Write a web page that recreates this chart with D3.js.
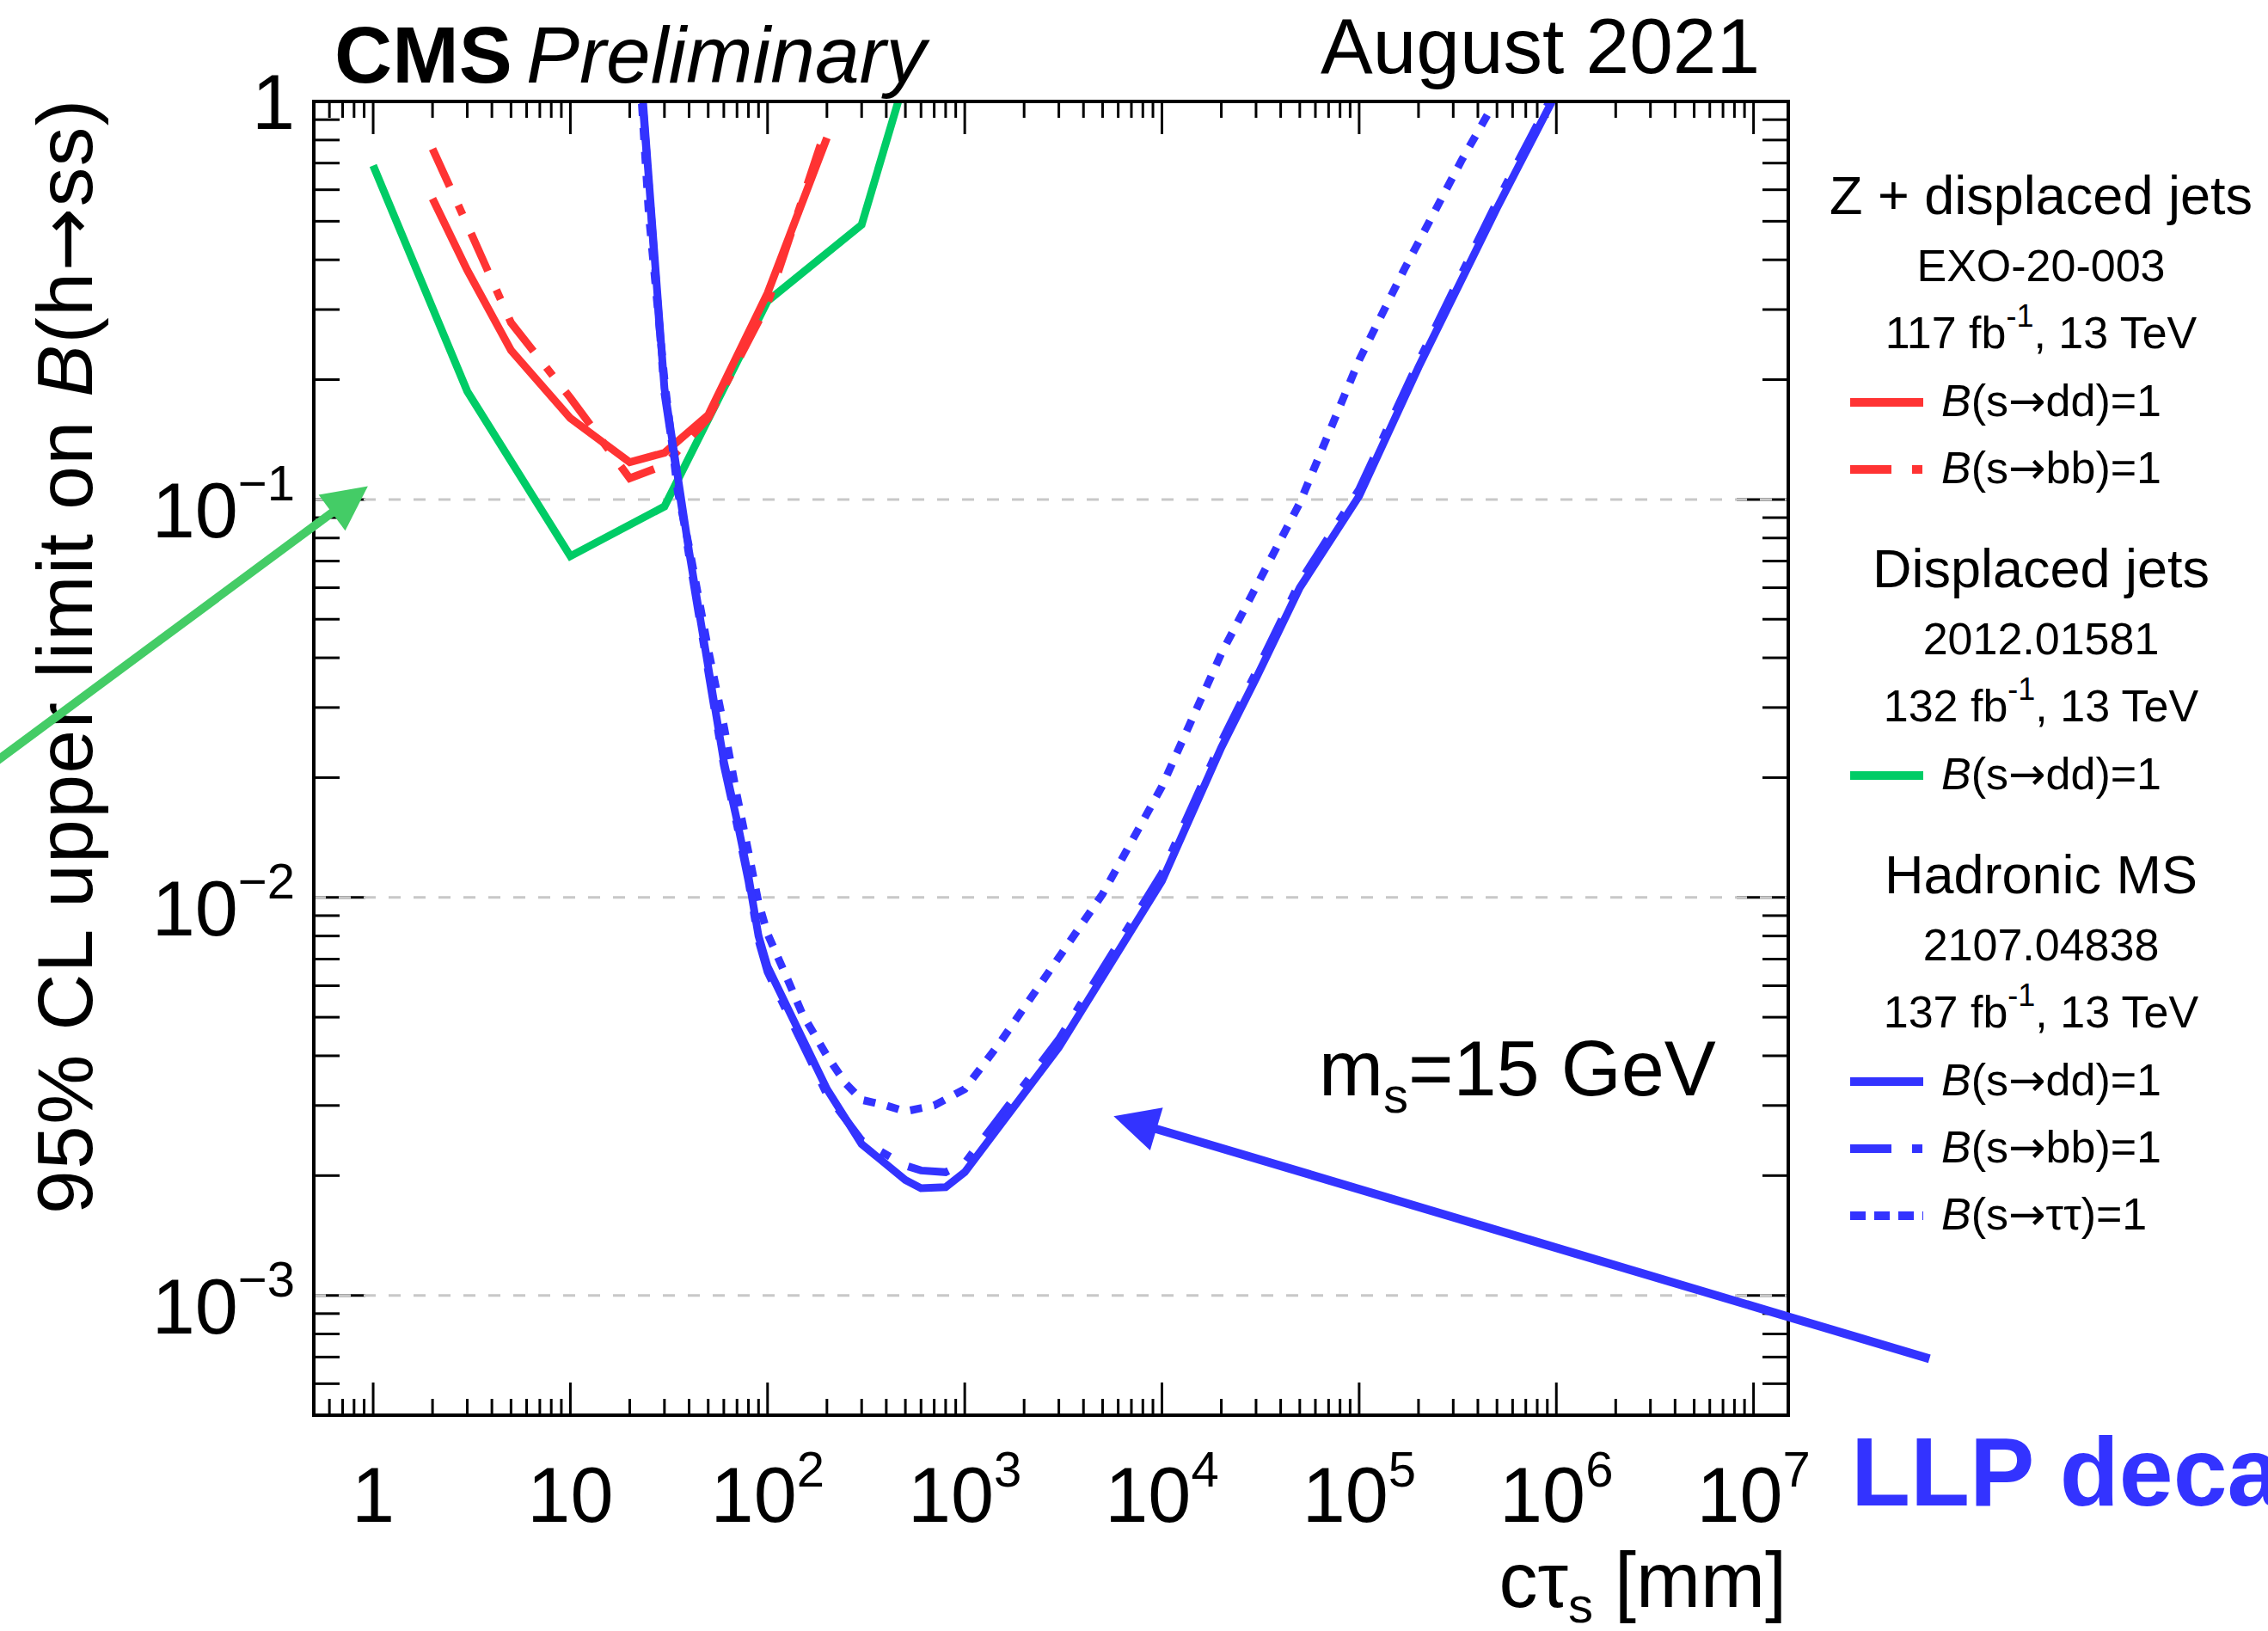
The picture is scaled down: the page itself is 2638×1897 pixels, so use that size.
<!DOCTYPE html>
<html>
<head>
<meta charset="utf-8">
<script src="https://cdn.jsdelivr.net/npm/d3@7"></script>
<style>
body{margin:0;background:#fff;}
svg text{font-family:"Liberation Sans",Arial,Helvetica,sans-serif;fill:#000;}
svg tspan.arr{font-family:"DejaVu Sans",sans-serif;}
</style>
</head>
<body>
<svg width="2638" height="1897"></svg>
<script>
// Z + displaced jets, EXO-20-003
const zjCtau = [2, 3, 5, 10, 20, 30, 50, 100, 200];
const zjDD = [0.57, 0.377, 0.237, 0.160, 0.124, 0.131, 0.163, 0.33, 0.81];
const zjBB = [0.76, 0.49, 0.278, 0.18, 0.113, 0.122, 0.16, 0.31, 0.87];

// Displaced jets, 2012.01581
const djCtau = [1, 3, 10, 30, 100, 300, 500];
const djDD = [0.69, 0.187, 0.072, 0.096, 0.315, 0.49, 1.15];

// Hadronic MS, 2107.04838
const msCtau = [20, 30, 40, 50, 60, 70, 80, 90, 100, 200, 300, 500, 600, 800, 1000, 3000,
                1e4, 2e4, 3e4, 5e4, 1e5, 2e5, 5e5, 1e6];
const msDD = [2.8, 0.19, 0.074, 0.038, 0.022, 0.0156, 0.0113, 0.0080, 0.0067, 0.0033, 0.0024, 0.00195,
              0.00186, 0.00187, 0.00204, 0.0042, 0.0110, 0.0238, 0.0355, 0.060, 0.102, 0.215, 0.54, 1.05];
const msBB = [2.7, 0.185, 0.072, 0.037, 0.0215, 0.0152, 0.011, 0.0078, 0.0065, 0.0032, 0.00245, 0.00212,
              0.00206, 0.00204, 0.00215, 0.0044, 0.0115, 0.0246, 0.0368, 0.062, 0.106, 0.222, 0.56, 1.08];
const msTauCtau = [20, 25, 30, 35, 40, 50, 60, 70, 80, 90, 100, 125, 150, 200, 250, 300, 400, 500, 700,
                   1000, 1500, 2500, 5000, 1e4, 2e4, 5e4, 1e5, 1.7e5, 3.3e5, 4.5e5];
const msTT = [3.0, 0.52, 0.2, 0.105, 0.076, 0.042, 0.027, 0.018, 0.013, 0.0097, 0.0081, 0.0063, 0.0051,
              0.0040, 0.0034, 0.0031, 0.0030, 0.0029, 0.00300, 0.0033, 0.0043, 0.0062, 0.0102, 0.019,
              0.041, 0.098, 0.224, 0.38, 0.71, 0.93];

// axis labels
const xLabelVals = [1, 10, 1e2, 1e3, 1e4, 1e5, 1e6, 1e7];
const xLabelBase = ['1', '10', '10', '10', '10', '10', '10', '10'];
const xLabelExp = ['', '', '2', '3', '4', '5', '6', '7'];
const yLabelVals = [1, 0.1, 0.01, 0.001];
const yLabelBase = ['1', '10', '10', '10'];
const yLabelExp = ['', '\u22121', '\u22122', '\u22123'];
const yGridVals = [0.1, 0.01, 0.001];

// annotation arrows [tail, tip] in (ctau, limit) units
const greenArrow = [[0.01, 0.0204], [0.94, 0.108]];
const blueArrow = [[7.8e7, 6.93e-4], [5690, 0.00282]];

const red = '#ff3333', green = '#00cc66', blue = '#3333ff';
const dashDot = '48,24,12,24', dotted = '14,14';

const frame = {left: 365, right: 2080, top: 118, bottom: 1646};
const x = d3.scaleLog().domain([0.5, 1.5e7]).range([frame.left, frame.right]);
const y = d3.scaleLog().domain([5e-4, 1]).range([frame.bottom, frame.top]);

const svg = d3.select('svg');
svg.append('defs').append('clipPath').attr('id', 'plotClip')
   .append('rect')
   .attr('x', frame.left).attr('y', frame.top)
   .attr('width', frame.right - frame.left).attr('height', frame.bottom - frame.top);

// ticks
const xTicks = [], yTicks = [];
for (let e = -1; e <= 7; e++) for (let m = 1; m <= 9; m++) {
    const v = m * Math.pow(10, e);
    if (v > 0.5 && v < 1.5e7) xTicks.push({v: v, major: m == 1});
}
for (let e = -4; e <= 0; e++) for (let m = 1; m <= 9; m++) {
    const v = m * Math.pow(10, e);
    if (v > 5e-4 && v <= 1) yTicks.push({v: v, major: m == 1});
}
const ticks = svg.append('g').attr('stroke', '#000').attr('stroke-width', 3);
ticks.selectAll('.xb').data(xTicks).enter().append('line')
     .attr('x1', d => x(d.v)).attr('x2', d => x(d.v))
     .attr('y1', frame.bottom).attr('y2', d => frame.bottom - (d.major ? 38 : 19));
ticks.selectAll('.xt').data(xTicks).enter().append('line')
     .attr('x1', d => x(d.v)).attr('x2', d => x(d.v))
     .attr('y1', frame.top).attr('y2', d => frame.top + (d.major ? 38 : 19));
ticks.selectAll('.yl').data(yTicks).enter().append('line')
     .attr('y1', d => y(d.v)).attr('y2', d => y(d.v))
     .attr('x1', frame.left).attr('x2', d => frame.left + (d.major ? 60 : 30));
ticks.selectAll('.yr').data(yTicks).enter().append('line')
     .attr('y1', d => y(d.v)).attr('y2', d => y(d.v))
     .attr('x1', frame.right).attr('x2', d => frame.right - (d.major ? 60 : 30));

// grid
svg.append('g').selectAll('line').data(yGridVals).enter().append('line')
   .attr('x1', frame.left).attr('x2', frame.right)
   .attr('y1', d => y(d)).attr('y2', d => y(d))
   .attr('stroke', '#c8c8c8').attr('stroke-width', 3).attr('stroke-dasharray', '14,15');

// curves
const series = [
    {ctau: djCtau, lim: djDD, color: green, dash: null},
    {ctau: zjCtau, lim: zjBB, color: red, dash: dashDot},
    {ctau: zjCtau, lim: zjDD, color: red, dash: null},
    {ctau: msTauCtau, lim: msTT, color: blue, dash: dotted},
    {ctau: msCtau, lim: msBB, color: blue, dash: dashDot},
    {ctau: msCtau, lim: msDD, color: blue, dash: null}
];
const line = d3.line().x(d => x(d[0])).y(d => y(d[1]));
svg.append('g').attr('clip-path', 'url(#plotClip)')
   .selectAll('path').data(series).enter().append('path')
   .attr('d', s => line(s.ctau.map((c, i) => [c, s.lim[i]])))
   .attr('fill', 'none')
   .attr('stroke', s => s.color)
   .attr('stroke-width', 9)
   .attr('stroke-linejoin', 'miter')
   .attr('stroke-dasharray', s => s.dash);

// frame
svg.append('rect')
   .attr('x', frame.left).attr('y', frame.top)
   .attr('width', frame.right - frame.left).attr('height', frame.bottom - frame.top)
   .attr('fill', 'none').attr('stroke', '#000').attr('stroke-width', 4);

// tick labels
const xl = svg.append('g').attr('font-size', 90).attr('text-anchor', 'middle');
xLabelVals.forEach((v, i) => {
    const t = xl.append('text').attr('x', x(v)).attr('y', 1770);
    t.append('tspan').text(xLabelBase[i]);
    if (xLabelExp[i]) t.append('tspan').attr('dy', -41).attr('font-size', 58).text(xLabelExp[i]);
});
const yl = svg.append('g').attr('font-size', 90).attr('text-anchor', 'end');
yLabelVals.forEach((v, i) => {
    const t = yl.append('text').attr('x', 343).attr('y', y(v) + (yLabelExp[i] ? 44 : 32));
    t.append('tspan').text(yLabelBase[i]);
    if (yLabelExp[i]) t.append('tspan').attr('dy', -43).attr('font-size', 58).text(yLabelExp[i]);
});

// axis titles
const xt = svg.append('text').attr('x', 2078).attr('y', 1869)
              .attr('font-size', 90).attr('text-anchor', 'end');
xt.append('tspan').text('c\u03c4');
xt.append('tspan').attr('font-size', 58).attr('dy', 18).text('s');
xt.append('tspan').attr('dy', -18).text(' [mm]');

const yt = svg.append('text').attr('transform', 'translate(107,116) rotate(-90)')
              .attr('font-size', 91).attr('text-anchor', 'end')
              .attr('textLength', 1296).attr('lengthAdjust', 'spacing');
yt.append('tspan').text('95% CL upper limit on ');
yt.append('tspan').attr('font-style', 'italic').text('B');
yt.append('tspan').text('(h');
yt.append('tspan').attr('class', 'arr').attr('font-size', 88).text('\u2192');
yt.append('tspan').text('ss)');

// header texts
svg.append('text').attr('x', 389).attr('y', 96).attr('font-size', 93)
   .attr('font-weight', 'bold').text('CMS');
svg.append('text').attr('x', 612).attr('y', 96).attr('font-size', 93)
   .attr('font-style', 'italic').text('Preliminary');
svg.append('text').attr('x', 2047).attr('y', 85).attr('font-size', 91)
   .attr('text-anchor', 'end').text('August 2021');

const ms = svg.append('text').attr('x', 1534).attr('y', 1274).attr('font-size', 90);
ms.append('tspan').text('m');
ms.append('tspan').attr('font-size', 58).attr('dy', 20).text('s');
ms.append('tspan').attr('dy', -20).text('=15 GeV');

svg.append('text').attr('x', 2153).attr('y', 1751).attr('font-size', 113)
   .attr('font-weight', 'bold').style('fill', blue).text('LLP decays');

// legend
const legendHead = ['Z + displaced jets', 'Displaced jets', 'Hadronic MS'];
const legendRef = ['EXO-20-003', '2012.01581', '2107.04838'];
const legendLumi = ['117', '132', '137'];
const legendEntries = [
    [{color: red, dash: null, ch: 'dd'}, {color: red, dash: dashDot, ch: 'bb'}],
    [{color: green, dash: null, ch: 'dd'}],
    [{color: blue, dash: null, ch: 'dd'}, {color: blue, dash: dashDot, ch: 'bb'},
     {color: blue, dash: dotted, ch: '\u03c4\u03c4'}]
];
const leg = svg.append('g');
const cx = 2374;
let ly = 249;
legendHead.forEach((h, b) => {
    if (b > 0) ly += 121;
    leg.append('text').attr('x', cx).attr('y', ly).attr('font-size', 63)
       .attr('text-anchor', 'middle').text(h);
    ly += 78;
    leg.append('text').attr('x', cx).attr('y', ly).attr('font-size', 52)
       .attr('text-anchor', 'middle').text(legendRef[b]);
    ly += 78;
    const lu = leg.append('text').attr('x', cx).attr('y', ly).attr('font-size', 52)
                  .attr('text-anchor', 'middle');
    lu.append('tspan').text(legendLumi[b] + ' fb');
    lu.append('tspan').attr('font-size', 36).attr('dy', -25).text('-1');
    lu.append('tspan').attr('dy', 25).text(', 13 TeV');
    legendEntries[b].forEach((en, k) => {
        ly += (k == 0 ? 79 : 78);
        leg.append('line').attr('x1', 2152).attr('x2', 2237)
           .attr('y1', ly - 16).attr('y2', ly - 16)
           .attr('stroke', en.color).attr('stroke-width', 10)
           .attr('stroke-dasharray', en.dash == dotted ? '18,10' : en.dash);
        const t = leg.append('text').attr('x', 2258).attr('y', ly).attr('font-size', 52);
        t.append('tspan').attr('font-style', 'italic').text('B');
        t.append('tspan').text('(s');
        t.append('tspan').attr('class', 'arr').attr('font-size', 52).text('\u2192');
        t.append('tspan').text(en.ch + ')=1');
    });
});

// arrows
function drawArrow(pts, color) {
    const x0 = x(pts[0][0]), y0 = y(pts[0][1]);
    const x1 = x(pts[1][0]), y1 = y(pts[1][1]);
    const len = Math.hypot(x1 - x0, y1 - y0);
    const ux = (x1 - x0) / len, uy = (y1 - y0) / len;
    const hl = 52, hw = 26;
    const bx = x1 - ux * hl, by = y1 - uy * hl;
    svg.append('line').attr('x1', x0).attr('y1', y0).attr('x2', bx + ux * 4).attr('y2', by + uy * 4)
       .attr('stroke', color).attr('stroke-width', 10);
    svg.append('polygon')
       .attr('points', [[x1, y1], [bx - uy * hw, by + ux * hw], [bx + uy * hw, by - ux * hw]].join(' '))
       .attr('fill', color);
}
drawArrow(greenArrow, '#44cc66');
drawArrow(blueArrow, blue);
</script>
</body>
</html>
